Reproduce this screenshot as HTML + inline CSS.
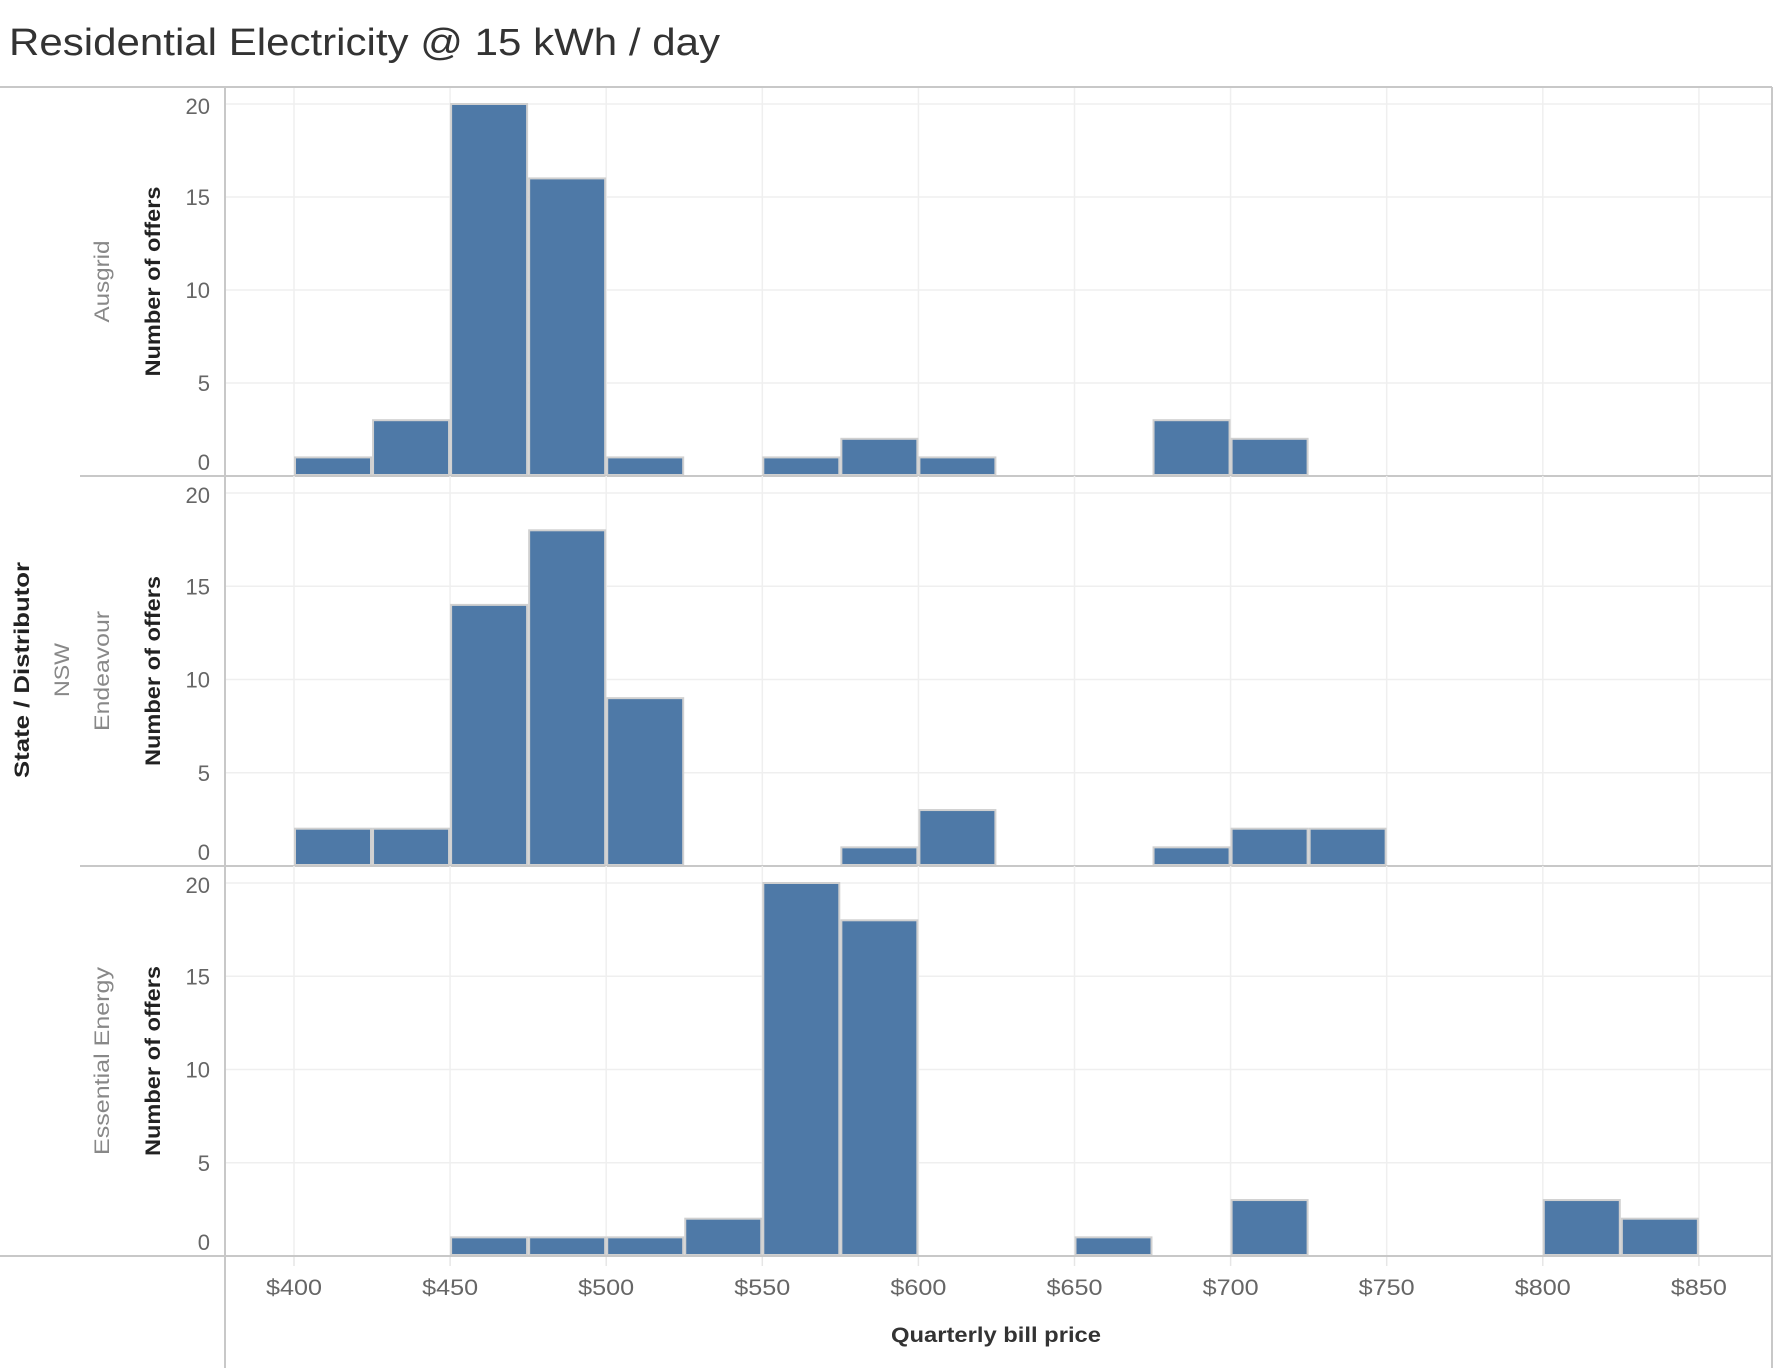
<!DOCTYPE html>
<html><head><meta charset="utf-8"><style>
html,body{margin:0;padding:0;background:#fff;}
svg{display:block;font-family:"Liberation Sans",sans-serif;}
</style></head><body>
<svg id="s" width="1774" height="1368" xmlns="http://www.w3.org/2000/svg">
<text x="9" y="55" font-size="38" fill="#333" textLength="711" lengthAdjust="spacingAndGlyphs">Residential Electricity @ 15 kWh / day</text>
<g id="g"></g>
</svg>
<script>
var g=document.getElementById('g'),h='';
var tops=[87,476,866],bot=1256,L=225,R=1772;
var names=['Ausgrid','Endeavour','Essential Energy'];
var data=[
{0:1,1:3,2:20,3:16,4:1,6:1,7:2,8:1,11:3,12:2},
{0:2,1:2,2:14,3:18,4:9,7:1,8:3,11:1,12:2,13:2},
{2:1,3:1,4:1,5:2,6:20,7:18,10:1,12:3,16:3,17:2}];
function X(k){return 294+78.05*k;}
for(var p=0;p<3;p++){
 var t=tops[p],b=(p<2?tops[p+1]:bot),u=(b-t-17)/20;
 for(var v=5;v<=20;v+=5){var y=b-v*u;h+='<line x1="'+L+'" x2="'+R+'" y1="'+y+'" y2="'+y+'" stroke="#efefef" stroke-width="1.5"/>';}
 for(var k=0;k<=18;k+=2){h+='<line x1="'+X(k)+'" x2="'+X(k)+'" y1="'+t+'" y2="'+b+'" stroke="#efefef" stroke-width="1.5"/>';}
 for(var v=0;v<=20;v+=5){var y=b-v*u+8; if(v==0)y=b-6; if(v==20)y=b-20*u+10;h+='<text x="210" y="'+y+'" font-size="22" fill="#666" text-anchor="end">'+v+'</text>';}
 var d=data[p];
 for(var k in d){var n=d[k];var x=X(+k);h+='<rect x="'+(x+1)+'" y="'+(b-n*u)+'" width="76" height="'+(n*u-1)+'" fill="#4e79a7" stroke="#d0d0d0" stroke-width="2"/>';}
 var cy=(t+b)/2;
 h+='<text transform="translate(160,'+cy+') rotate(-90)" font-size="21" font-weight="bold" fill="#222" text-anchor="middle" textLength="190" lengthAdjust="spacingAndGlyphs">Number of offers</text>';
 var tl=[82,120,188][p];
 h+='<text transform="translate(109,'+cy+') rotate(-90)" font-size="21" fill="#888" text-anchor="middle" textLength="'+tl+'" lengthAdjust="spacingAndGlyphs">'+names[p]+'</text>';
 h+='<line x1="'+(p<2?80:0)+'" x2="'+R+'" y1="'+b+'" y2="'+b+'" stroke="#c8c8c8" stroke-width="2"/>';
}
h+='<line x1="0" x2="'+R+'" y1="87" y2="87" stroke="#c8c8c8" stroke-width="2"/>';
h+='<line x1="'+L+'" x2="'+L+'" y1="87" y2="1368" stroke="#c8c8c8" stroke-width="2"/>';
h+='<line x1="'+R+'" x2="'+R+'" y1="87" y2="1368" stroke="#c8c8c8" stroke-width="2"/>';
var lab=['$400','$450','$500','$550','$600','$650','$700','$750','$800','$850'];
for(var i=0;i<10;i++){var x=X(2*i);h+='<line x1="'+x+'" x2="'+x+'" y1="1257" y2="1266" stroke="#e6e6e6" stroke-width="1.5"/>';
 h+='<text x="'+x+'" y="1295" font-size="22" fill="#666" text-anchor="middle" textLength="56" lengthAdjust="spacingAndGlyphs">'+lab[i]+'</text>';}
h+='<text x="996" y="1342" font-size="21" font-weight="bold" fill="#333" text-anchor="middle" textLength="210" lengthAdjust="spacingAndGlyphs">Quarterly bill price</text>';
h+='<text transform="translate(29,670) rotate(-90)" font-size="21" font-weight="bold" fill="#222" text-anchor="middle" textLength="216" lengthAdjust="spacingAndGlyphs">State  /  Distributor</text>';
h+='<text transform="translate(69,670) rotate(-90)" font-size="21" fill="#888" text-anchor="middle" textLength="54" lengthAdjust="spacingAndGlyphs">NSW</text>';
g.innerHTML=h;
</script>
</body></html>
